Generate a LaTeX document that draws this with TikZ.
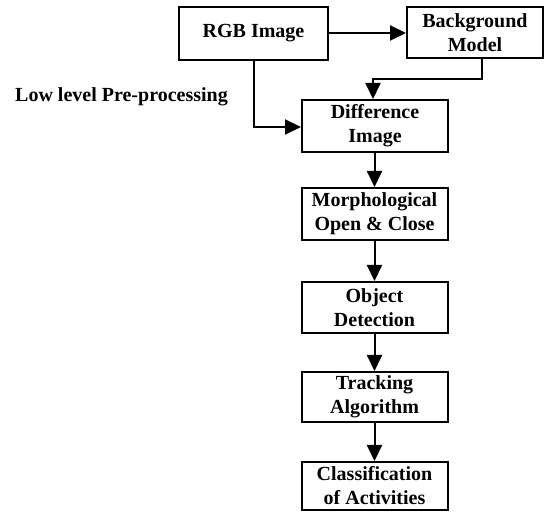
\documentclass[tikz,border=0pt]{standalone}
\usepackage{fontspec}
\setmainfont{Liberation Serif}
\usetikzlibrary{arrows.meta}
\begin{document}
\begin{tikzpicture}[x=1pt,y=-1pt,
  box/.style={draw=black,line width=2pt,minimum width=146pt,minimum height=52pt,inner sep=0pt,align=center,
    font=\fontsize{20}{24}\selectfont\bfseries},
  conn/.style={line width=2pt,-{Triangle[length=16pt,width=15pt]}}]
\useasboundingbox (0,0) rectangle (547,513);
\node[box,minimum width=149pt,minimum height=53pt] (rgb) at (253.5,33.5) {RGB Image};
\node[box,minimum width=136pt,minimum height=51pt] (bg) at (475,32.5) {Background\\Model};
\node[box] (diff) at (375,126) {Difference\\Image};
\node[box] (morph) at (374.5,214) {Morphological\\Open \& Close};
\node[box,minimum height=51pt] (obj) at (374.5,307.5) {Object\\Detection};
\node[box,minimum height=50pt] (track) at (374.5,397) {Tracking\\Algorithm};
\node[box,minimum height=48pt] (cls) at (374.5,486) {Classification\\of Activities};
\node[anchor=base west,inner sep=0pt,font=\fontsize{20}{24}\selectfont\bfseries] (lbl) at (15,102) {Low level Pre-processing};
\coordinate (c1) at (482,79);
\coordinate (c2) at (373,79);
\coordinate (c3) at (254,127);
\draw[conn] (rgb.east |- 0,33) -- (bg.west |- 0,33);
\draw[conn] (c1 |- bg.south) -- (c1) -- (c2) -- (c2 |- diff.north);
\draw[conn] (c3 |- rgb.south) -- (c3) -- (diff.west |- c3);
\draw[conn] (diff.south -| 374.5,0) -- (morph.north);
\draw[conn] (morph) -- (obj.north);
\draw[conn] (obj) -- (track.north);
\draw[conn] (track) -- (cls.north);
\end{tikzpicture}
\end{document}
